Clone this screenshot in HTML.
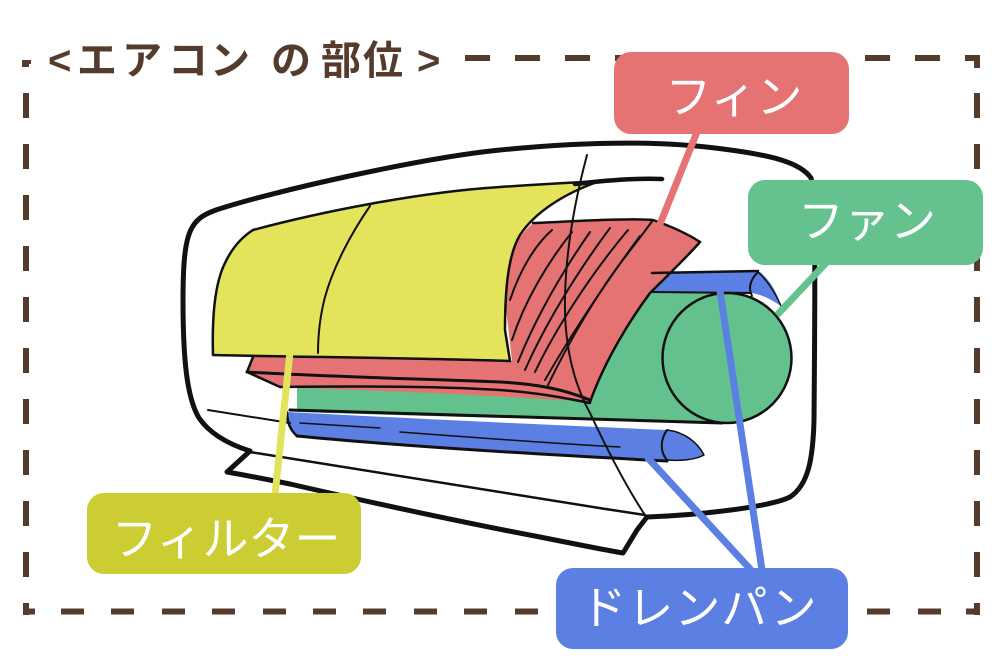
<!DOCTYPE html>
<html><head><meta charset="utf-8">
<style>
html,body{margin:0;padding:0;background:#fff;}
body{width:1000px;height:667px;overflow:hidden;}
svg{display:block;}
.lbl{font-family:"Liberation Sans","Noto Sans CJK JP",sans-serif;font-size:46px;fill:#fff;}
.ttl{font-family:"Liberation Sans","Noto Sans CJK JP",sans-serif;font-size:40px;font-weight:bold;fill:#553b2b;}
</style></head>
<body>
<svg width="1000" height="667" viewBox="0 0 1000 667" xmlns="http://www.w3.org/2000/svg">
<rect width="1000" height="667" fill="#fff"/>
<!-- dashed border -->
<g fill="#553b2b">
  <rect x="465" y="55" width="25" height="6"/><rect x="515" y="55" width="25" height="6"/>
  <rect x="565" y="55" width="25" height="6"/><rect x="615" y="55" width="25" height="6"/>
  <rect x="665" y="55" width="25" height="6"/><rect x="715" y="55" width="25" height="6"/>
  <rect x="765" y="55" width="25" height="6"/><rect x="815" y="55" width="25" height="6"/>
  <rect x="865" y="55" width="25" height="6"/><rect x="915" y="55" width="25" height="6"/>
  <rect x="965" y="55" width="15" height="6"/><rect x="974" y="55" width="6" height="13"/>
  <rect x="974" y="93" width="6" height="25"/><rect x="974" y="144" width="6" height="25"/>
  <rect x="974" y="195" width="6" height="25"/><rect x="974" y="246" width="6" height="25"/>
  <rect x="974" y="297" width="6" height="25"/><rect x="974" y="348" width="6" height="25"/>
  <rect x="974" y="399" width="6" height="25"/><rect x="974" y="450" width="6" height="25"/>
  <rect x="974" y="501" width="6" height="25"/><rect x="974" y="552" width="6" height="25"/>
  <rect x="974" y="603" width="6" height="12"/><rect x="966" y="608.5" width="14" height="6"/>
  <rect x="23" y="93" width="6" height="25"/><rect x="23" y="144" width="6" height="25"/>
  <rect x="23" y="195" width="6" height="25"/><rect x="23" y="246" width="6" height="25"/>
  <rect x="23" y="297" width="6" height="25"/><rect x="23" y="348" width="6" height="25"/>
  <rect x="23" y="399" width="6" height="25"/><rect x="23" y="450" width="6" height="25"/>
  <rect x="23" y="501" width="6" height="25"/><rect x="23" y="552" width="6" height="25"/>
  <rect x="23" y="603" width="6" height="12"/><rect x="23" y="608.5" width="12" height="6"/>
  <rect x="22" y="60" width="7" height="7"/><rect x="22" y="60" width="9" height="4"/>
  <rect x="61" y="608.5" width="23" height="6"/><rect x="111" y="608.5" width="23" height="6"/>
  <rect x="162" y="608.5" width="23" height="6"/><rect x="212" y="608.5" width="23" height="6"/>
  <rect x="263" y="608.5" width="23" height="6"/><rect x="313" y="608.5" width="23" height="6"/>
  <rect x="363" y="608.5" width="23" height="6"/><rect x="414" y="608.5" width="23" height="6"/>
  <rect x="464" y="608.5" width="23" height="6"/><rect x="515" y="608.5" width="23" height="6"/>
  <rect x="867" y="608.5" width="23" height="6"/><rect x="918" y="608.5" width="23" height="6"/>
</g>
<!-- title -->
<text class="ttl" x="48 77 122 168 210 271 321 363 417" y="74">&lt;エアコンの部位&gt;</text>

<!-- colored fills -->
<path d="M650,273 L760,272 C770,280 777,292 781,306 C772,300 762,294 750,293 L650,293 Z" fill="#5b7fe2"/>
<path d="M297,385 L297,412 C420,416 580,420 722,423 C760,423 792,395 792,358 C792,320 762,292 727,292 L648,292 L560,385 Z" fill="#63c18d"/>
<path d="M253,355 L512,361 L505,300 C506,260 515,238 533,223 C580,221 630,218 653,220 C670,226 688,234 700,242 C686,258 665,278 650,293 C630,320 605,360 590,402 C520,397 400,391 300,388 L280,387 L247,372 Z" fill="#e57373"/>
<path d="M253,230 C320,212 420,193 500,187 L600,181 C565,193 535,212 520,235 C508,255 505,290 505,330 L510,361 L213,355 C212,320 214,285 225,263 C232,248 242,237 253,230 Z" fill="#e3e35c"/>
<path d="M287,412 C400,418 550,425 667,430 C685,432 698,443 704,455 C695,460 680,461 667,460 C550,455 400,446 297,436 C290,430 287,420 287,412 Z" fill="#5b7fe2"/>

<!-- black sketch lines -->
<g fill="none" stroke="#111" stroke-linecap="round" stroke-linejoin="round">
  <path d="M250,451 C228,444 210,434 199,418 C187,398 183,360 183,300 C183,262 185,238 193,226 C198,218 205,214 216,210 C270,192 420,158 500,150 C570,143 650,139 723,149 C770,155 800,162 811,178 C816,200 815,300 814,420 C813,460 808,485 790,497 C770,507 700,515 647,517" stroke-width="5"/>
  <path d="M250,451 L238,462 L227,472 C250,476 270,480 290,484 C360,500 450,520 540,537 C580,545 605,550 623,553 L637,530 L647,517" stroke-width="5"/>
  <path d="M250,452 C350,468 500,493 645,515" stroke-width="2.5"/>
  <path d="M208,410 C240,415 265,419 290,423" stroke-width="2"/>
  <path d="M587,155 C575,200 566,250 565,297 C564,340 572,380 590,413 C605,445 625,485 645,515" stroke-width="2"/>
  <path d="M253,230 C320,212 420,192 500,187 C560,183 620,180 663,179" stroke-width="2.5"/>
  <path d="M575,184 C610,180 635,178 662,179" stroke-width="4.5"/>
  <path d="M600,181 C565,193 535,212 520,235 C508,255 505,290 505,330 L510,361" stroke-width="2.5"/>
  <path d="M253,230 C242,237 232,248 225,263 C214,285 212,320 213,355" stroke-width="2.5"/>
  <path d="M213,355 C300,357 420,358 510,361" stroke-width="2.5"/>
  <path d="M370,206 C350,235 333,268 325,297 C319,320 318,340 318,353" stroke-width="2"/>
  <path d="M533,223 C580,221 630,218 653,220 C670,226 688,234 700,242" stroke-width="2.5"/>
  <path d="M700,242 C686,258 665,278 650,293 C630,320 605,360 590,402" stroke-width="2.5"/>
  <path d="M653,220 C635,245 620,262 605,285 C585,315 565,350 548,385" stroke-width="2"/>
  <path d="M253,357 L247,372 L280,387" stroke-width="2.5"/>
  <path d="M247,372 C330,377 430,379 500,382 C540,384 565,390 590,400" stroke-width="3"/>
  <path d="M280,387 C360,386 440,386 500,390 C540,393 565,398 590,403" stroke-width="2.5"/>
  <path d="M510,300 C520,270 535,245 552,230" stroke-width="2"/>
  <path d="M512,340 C525,300 548,262 572,232" stroke-width="2"/>
  <path d="M518,362 C535,320 560,275 590,232" stroke-width="2"/>
  <path d="M525,370 C545,325 575,275 610,228" stroke-width="2"/>
  <path d="M535,372 C555,330 590,275 628,230" stroke-width="2"/>
  <path d="M545,380 C565,345 600,290 640,236" stroke-width="2"/>
  <ellipse cx="727" cy="358" rx="64.5" ry="65" stroke-width="2.5"/>
  <path d="M290,410 C400,414 550,418 722,423" stroke-width="3"/>
  <path d="M652,273 L758,271" stroke-width="2.5"/>
  <path d="M758,272 C766,279 775,292 781,306" stroke-width="1.5"/>
  <path d="M758,272 C750,280 748,288 752,296" stroke-width="2"/>
  <path d="M652,292 L750,293" stroke-width="2"/>
  <path d="M297,436 C400,446 550,455 667,461" stroke-width="3"/>
  <path d="M287,412 C287,422 290,430 297,436" stroke-width="2.5"/>
  <path d="M667,430 C660,440 660,452 667,460" stroke-width="2"/>
  <path d="M667,430 C685,432 698,443 704,455 C695,460 680,461 667,460" stroke-width="1.5"/>
  <path d="M300,423 L380,428" stroke-width="1.5"/>
  <path d="M400,432 C480,438 560,444 620,447" stroke-width="1.5"/>
</g>

<!-- connectors -->
<g fill="none" stroke-width="7">
  <path d="M697,132 L660,224" stroke="#e57373"/>
  <path d="M826,263 L777,315" stroke="#65c28f"/>
  <path d="M290,352 L275,495" stroke="#e2e35a"/>
  <path d="M647,457 L751,570" stroke="#5b7fe2"/>
  <path d="M720,291 L762,570" stroke="#5b7fe2"/>
</g>

<!-- label boxes -->
<rect x="614" y="52" width="235" height="82" rx="17" fill="#e57373"/>
<text class="lbl" x="734" y="113" text-anchor="middle">フィン</text>
<rect x="748" y="180" width="235" height="85" rx="17" fill="#65c28f"/>
<text class="lbl" x="867" y="237" text-anchor="middle">ファン</text>
<rect x="87" y="493" width="274" height="81" rx="17" fill="#cccc33"/>
<text class="lbl" x="226" y="555" text-anchor="middle">フィルター</text>
<rect x="556" y="568" width="292" height="81" rx="17" fill="#5b7fe2"/>
<text class="lbl" x="699" y="624" text-anchor="middle" letter-spacing="1">ドレンパン</text>
</svg>
</body></html>
